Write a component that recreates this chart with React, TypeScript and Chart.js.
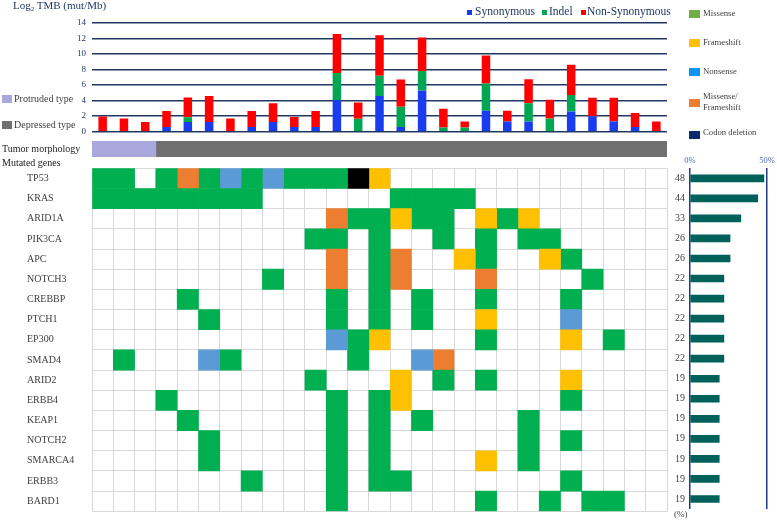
import React, { useEffect, useRef } from "react";
import { Chart, registerables } from "chart.js";
Chart.register(...registerables);

const SERIF = "'Liberation Serif', 'Times New Roman', serif";
Chart.defaults.font.family = SERIF;

// ---------- DATA ----------
const samples: string[] = Array.from({ length: 27 }, (_, i) => `S${i + 1}`);

// Log2 TMB components per sample (stacked)
const synonymous = [0, 0, 0, 0.6, 1.25, 1.25, 0, 0.6, 1.25, 0.6, 0.6, 4.05, 0, 4.6, 0.6, 5.3, 0, 0, 2.7, 1.3, 1.3, 0, 2.6, 2.0, 1.3, 0.6, 0];
const indel = [0, 0, 0, 0, 0.6, 0, 0, 0, 0, 0, 0, 3.5, 1.65, 2.6, 2.6, 2.5, 0.55, 0.55, 3.5, 0, 2.35, 1.7, 2.1, 0, 0, 0, 0];
const nonSynonymous = [1.95, 1.7, 1.25, 2.05, 2.55, 3.35, 1.7, 2.05, 2.4, 1.3, 2.05, 5.0, 2.1, 5.2, 3.5, 4.3, 2.4, 0.75, 3.6, 1.4, 3.1, 2.4, 3.9, 2.35, 3.05, 1.8, 1.3];
const tmbMax = 14;
const tmbStep = 2;

// Tumor morphology per sample: P = protruded, D = depressed
const morphology = "PPPDDDDDDDDDDDDDDDDDDDDDDDD";

const genes = ["TP53", "KRAS", "ARID1A", "PIK3CA", "APC", "NOTCH3", "CREBBP", "PTCH1", "EP300", "SMAD4", "ARID2", "ERBB4", "KEAP1", "NOTCH2", "SMARCA4", "ERBB3", "BARD1"];
const mutationFreq = [48, 44, 33, 26, 26, 22, 22, 22, 22, 22, 19, 19, 19, 19, 19, 19, 19];

// M = missense, F = frameshift, N = nonsense, X = missense/frameshift, D = codon deletion, . = none
const mutationRows = [
  "MM.MXMNMNMMMDF.............",
  "MMMMMMMM......MMMM.........",
  "...........XMMFMM.FMF......",
  "..........MM.M..M.M.MM.....",
  "...........X.MX..FM..FM....",
  "........M..X.MX...X....M...",
  "....M......M.M.M..M...M....",
  ".....M.....M.M.M..F...N....",
  "...........NMF....M...F.M..",
  ".M...NM.....M..NX..........",
  "..........M...F.M.M...F....",
  "...M.......M.MF.......M....",
  "....M......M.M.M....M......",
  ".....M.....M.M......M.M....",
  ".....M.....M.M....F.M......",
  ".......M...M.MM.......M....",
  "...........M......M..M.MM..",
];

const cellColors: Record<string, string> = {
  M: "#00b050",
  F: "#ffc000",
  N: "#5b9bd5",
  X: "#ed7d31",
  D: "#000000",
};

const NAVY = "#1f3864";

// ---------- helpers ----------
function ChartBox(props: { left: number; top: number; width: number; height: number; make: () => any }) {
  const ref = useRef<HTMLCanvasElement>(null);
  useEffect(() => {
    const chart = new Chart(ref.current as HTMLCanvasElement, props.make());
    return () => chart.destroy();
  }, []);
  return (
    <canvas
      ref={ref}
      width={props.width}
      height={props.height}
      style={{ position: "absolute", left: props.left, top: props.top, width: props.width, height: props.height }}
    />
  );
}

function Txt(props: { x: number; cy: number; size: number; color?: string; children: any }) {
  const lh = props.size * 1.2;
  return (
    <div
      style={{
        position: "absolute",
        left: props.x,
        top: props.cy - lh / 2,
        fontSize: props.size,
        lineHeight: `${lh}px`,
        color: props.color || "#404040",
        whiteSpace: "nowrap",
        fontFamily: SERIF,
      }}
    >
      {props.children}
    </div>
  );
}

function Box(props: { x: number; y: number; w: number; h: number; color: string }) {
  return (
    <div style={{ position: "absolute", left: props.x, top: props.y, width: props.w, height: props.h, background: props.color }} />
  );
}

// ---------- chart configs ----------
const tmbConfig = () => ({
  type: "bar",
  data: {
    labels: samples,
    datasets: [
      { label: "Synonymous", data: synonymous, backgroundColor: "#1a3cf0" },
      { label: "Indel", data: indel, backgroundColor: "#00a651" },
      { label: "Non-Synonymous", data: nonSynonymous, backgroundColor: "#ff0000" },
    ],
  },
  options: {
    responsive: false,
    animation: false,
    events: [],
    layout: { padding: { left: 0, right: 110, top: 22.7, bottom: 14.3 } },
    plugins: { legend: { display: false }, tooltip: { enabled: false } },
    datasets: { bar: { categoryPercentage: 1, barPercentage: 0.4 } },
    scales: {
      x: { stacked: true, display: false },
      y: {
        stacked: true,
        min: 0,
        max: tmbMax,
        ticks: { stepSize: tmbStep, padding: 6, color: NAVY, font: { size: 9 } },
        grid: { color: NAVY, lineWidth: 1.5, drawTicks: false },
        border: { display: false },
        afterFit: (s: any) => { s.width = 92; },
      },
    },
  },
});

const span = (ch: string) => {
  const first = morphology.indexOf(ch);
  const last = morphology.lastIndexOf(ch);
  return [first, last + 1];
};

const morphConfig = () => ({
  type: "bar",
  data: {
    labels: ["Tumor morphology"],
    datasets: [
      { label: "Protruded type", data: [span("P")], backgroundColor: "#a8a8dd" },
      { label: "Depressed type", data: [span("D")], backgroundColor: "#6f6f6f" },
    ],
  },
  options: {
    indexAxis: "y",
    responsive: false,
    animation: false,
    events: [],
    layout: { padding: { left: 2, right: 1, top: 11, bottom: 11 } },
    plugins: { legend: { display: false }, tooltip: { enabled: false } },
    datasets: { bar: { grouped: false, categoryPercentage: 1, barPercentage: 1 } },
    scales: {
      x: { min: 0, max: samples.length, display: false },
      y: {
        ticks: { crossAlign: "far", color: "#222", font: { size: 10 }, padding: 0 },
        grid: { display: false, drawTicks: false },
        border: { display: false },
        afterFit: (s: any) => { s.width = 90; },
      },
    },
  },
});

const heatConfig = () => ({
  type: "bar",
  data: {
    labels: genes,
    datasets: samples.map((s, c) => ({
      label: s,
      data: mutationRows.map((row) => (row[c] !== "." ? [c, c + 1] : null)),
      backgroundColor: mutationRows.map((row) => cellColors[row[c]] || "rgba(0,0,0,0)"),
      borderWidth: 0,
    })),
  },
  options: {
    indexAxis: "y",
    responsive: false,
    animation: false,
    events: [],
    layout: { padding: { left: 27, right: 1, top: 8.3, bottom: 8.7 } },
    plugins: { legend: { display: false }, tooltip: { enabled: false } },
    datasets: { bar: { grouped: false, categoryPercentage: 1, barPercentage: 1 } },
    scales: {
      x: {
        min: 0,
        max: samples.length,
        ticks: { stepSize: 1, display: false, maxTicksLimit: 100 },
        grid: { color: "#d9d9d9", drawTicks: false, lineWidth: 1 },
        border: { display: true, color: "#d9d9d9" },
        afterFit: (s: any) => { s.height = 0; },
      },
      y: {
        ticks: { crossAlign: "far", color: "#404040", font: { size: 10 }, padding: 0 },
        grid: { color: "#d9d9d9", offset: true, drawTicks: false, lineWidth: 1 },
        border: { display: false },
        afterFit: (s: any) => { s.width = 65; },
      },
    },
  },
});

const freqConfig = () => ({
  type: "bar",
  data: {
    labels: genes,
    datasets: [{ label: "Mutation frequency", data: mutationFreq, backgroundColor: "#00615b", barThickness: 7 }],
  },
  options: {
    indexAxis: "y",
    responsive: false,
    animation: false,
    events: [],
    layout: { padding: { left: 0, right: 10, top: 0, bottom: 8.7 } },
    plugins: { legend: { display: false }, tooltip: { enabled: false } },
    scales: {
      x: {
        position: "top",
        min: 0,
        max: 50,
        ticks: { stepSize: 50, callback: (v: any) => `${v}%`, color: "#4f6db0", font: { size: 8.5 }, padding: 2 },
        grid: { color: "#1f3b8a", lineWidth: 1.5, drawTicks: false },
        border: { display: false },
        afterFit: (s: any) => { s.height = 18.3; },
      },
      y: {
        ticks: { callback: (_v: any, i: number) => String(mutationFreq[i]), color: "#404040", font: { size: 10 }, padding: 5 },
        grid: { display: false, drawTicks: false },
        border: { display: false },
        afterFit: (s: any) => { s.width = 30; },
      },
    },
  },
});

export default function App() {
  return (
    <div style={{ position: "absolute", left: 0, top: 0, width: 777, height: 520, background: "#fff", overflow: "hidden", fontFamily: SERIF }}>
      <ChartBox left={0} top={0} width={777} height={146} make={tmbConfig} />
      <ChartBox left={0} top={130} width={668} height={38} make={morphConfig} />
      <ChartBox left={0} top={160} width={668} height={360} make={heatConfig} />
      <ChartBox left={660} top={150} width={117} height={370} make={freqConfig} />

      <Txt x={13} cy={6} size={11} color={NAVY}>
        Log<sub style={{ fontSize: 7, verticalAlign: "-2px" }}>2</sub> TMB (mut/Mb)
      </Txt>

      <Box x={467} y={9.5} w={5} h={5} color="#1a3cf0" />
      <Txt x={475} cy={12} size={11.5} color={NAVY}>Synonymous</Txt>
      <Box x={542} y={9.5} w={5} h={5} color="#00a651" />
      <Txt x={549} cy={12} size={11.5} color={NAVY}>Indel</Txt>
      <Box x={581} y={9.5} w={5} h={5} color="#ff0000" />
      <Txt x={587} cy={12} size={11.5} color={NAVY}>Non-Synonymous</Txt>

      <Box x={689} y={9.5} w={11} h={8} color="#70ad47" />
      <Txt x={703} cy={13.3} size={8.7}>Missense</Txt>
      <Box x={689} y={38.5} w={11} h={8} color="#ffc000" />
      <Txt x={703} cy={42.3} size={8.7}>Frameshift</Txt>
      <Box x={689} y={67.5} w={11} h={8} color="#0b96f5" />
      <Txt x={703} cy={71.3} size={8.7}>Nonsense</Txt>
      <Box x={689} y={98.5} w={11} h={8} color="#ed7d31" />
      <Txt x={703} cy={96.7} size={8.7}>Missense/</Txt>
      <Txt x={703} cy={107.3} size={8.7}>Frameshift</Txt>
      <Box x={689} y={130.5} w={11} h={8} color="#0e2a6b" />
      <Txt x={703} cy={132.7} size={8.7}>Codon deletion</Txt>

      <Box x={2} y={95} w={10} h={8} color="#a8a8dd" />
      <Txt x={14} cy={99} size={10}>Protruded type</Txt>
      <Box x={2} y={120.5} w={10} h={8} color="#6f6f6f" />
      <Txt x={14} cy={124.5} size={10}>Depressed type</Txt>

      <Txt x={2} cy={163} size={10} color="#222">Mutated genes</Txt>
      <Txt x={674} cy={514.5} size={9}>(%)</Txt>
    </div>
  );
}
